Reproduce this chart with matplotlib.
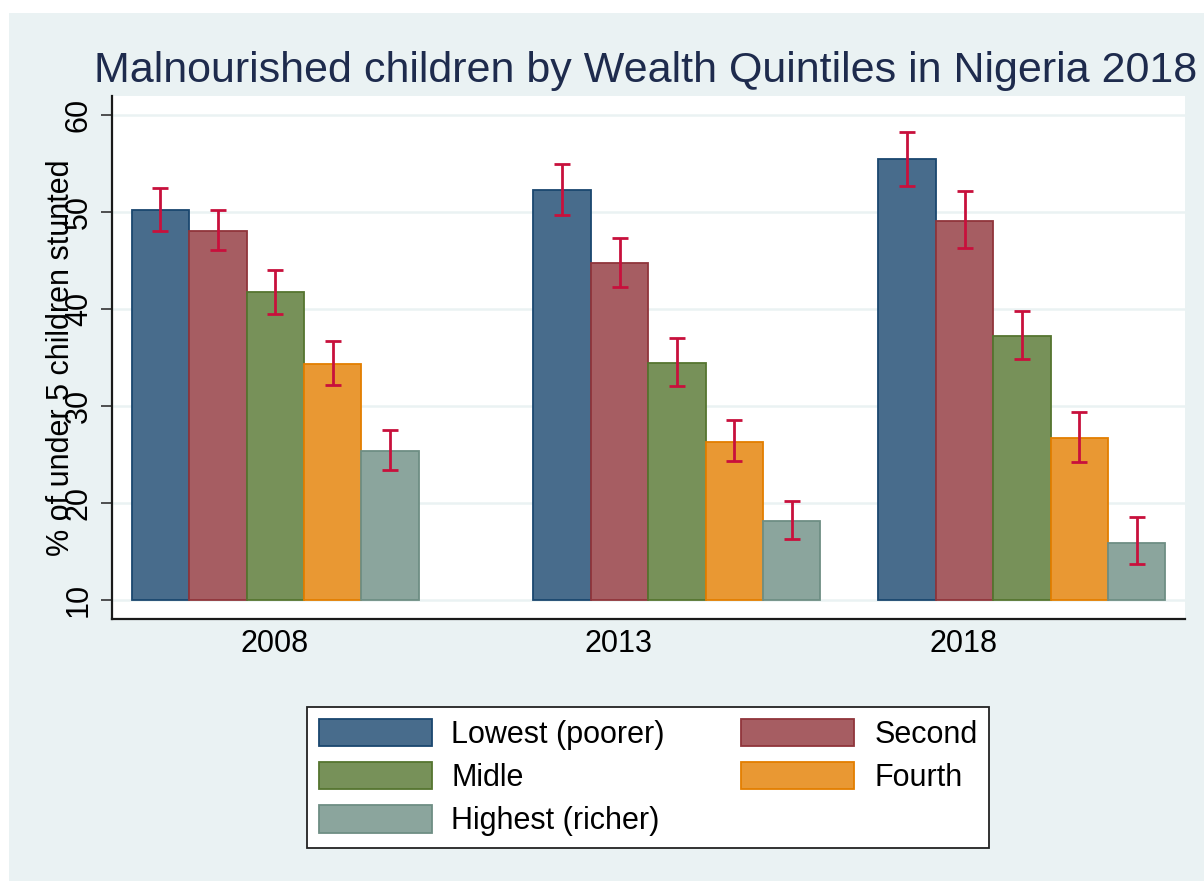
import matplotlib
matplotlib.use("Agg")
import matplotlib.pyplot as plt
import numpy as np
from matplotlib.patches import Rectangle, Patch

plt.rcParams['font.family'] = ['Liberation Sans', 'DejaVu Sans']

# ---------------- data ----------------
years = ["2008", "2013", "2018"]
quintiles = ["Lowest (poorer)", "Second", "Midle", "Fourth", "Highest (richer)"]

lowest = [50.2, 52.2, 55.4]
second = [48.0, 44.7, 49.1]
middle = [41.7, 34.4, 37.2]
fourth = [34.3, 26.3, 26.7]
highest = [25.4, 18.1, 15.9]

lowest_ci_lo = [48.0, 49.7, 52.7]
lowest_ci_hi = [52.5, 54.9, 58.2]
second_ci_lo = [46.1, 42.3, 46.3]
second_ci_hi = [50.2, 47.3, 52.1]
middle_ci_lo = [39.5, 32.0, 34.8]
middle_ci_hi = [44.0, 37.0, 39.8]
fourth_ci_lo = [32.1, 24.3, 24.2]
fourth_ci_hi = [36.7, 28.5, 29.4]
highest_ci_lo = [23.4, 16.3, 13.7]
highest_ci_hi = [27.5, 20.2, 18.5]

yticks = [10, 20, 30, 40, 50, 60]

# ---------------- style / layout ----------------
edge_cols = ["#1A476F", "#90353B", "#55752F", "#E37E00", "#6E8E84"]
bg = "#EAF2F3"
err_col = "#C8103C"
W, H = 1204, 881
group_start = [0.343, 7.34, 13.35]   # layout: left edge of each year group (bar-width units)
label_pos = [2.84, 8.83, 14.84]       # layout: tick label positions
base = 10

def fill_of(c, k=0.8):
    r, g, b = matplotlib.colors.to_rgb(c)
    return (1 - k + k * r, 1 - k + k * g, 1 - k + k * b)

fig = plt.figure(figsize=(W / 100, H / 100), dpi=100, facecolor="white")
fig.patches.append(Rectangle((9 / W, 0), 1 - 9 / W, (H - 13) / H, transform=fig.transFigure,
                             facecolor=bg, edgecolor="none", zorder=-10))

ax = fig.add_axes([112 / W, (H - 619) / H, (1185 - 112) / W, (619 - 96) / H])
ax.set_facecolor("white")

series = [lowest, second, middle, fourth, highest]
los = [lowest_ci_lo, second_ci_lo, middle_ci_lo, fourth_ci_lo, highest_ci_lo]
his = [lowest_ci_hi, second_ci_hi, middle_ci_hi, fourth_ci_hi, highest_ci_hi]

handles = []
for i, (vals, lo, hi) in enumerate(zip(series, los, his)):
    x = np.array(group_start) + 0.5 + i
    v = np.array(vals)
    ax.bar(x, v - base, bottom=base, width=1.0, color=fill_of(edge_cols[i]),
           edgecolor=edge_cols[i], linewidth=1.3, zorder=2)
    ax.errorbar(x, v, yerr=[v - np.array(lo), np.array(hi) - v], fmt="none",
                ecolor=err_col, elinewidth=2.0, capsize=6, capthick=2.0, zorder=3)
    handles.append(Patch(facecolor=fill_of(edge_cols[i]), edgecolor=edge_cols[i],
                         linewidth=1.3, label=quintiles[i]))

ax.set_xlim(0, 18.69)
ax.set_ylim(8.04, 61.93)
ax.set_yticks(yticks)
ax.set_yticklabels([str(t) for t in yticks], rotation=90, va="center", fontsize=22)
ax.set_xticks(label_pos)
ax.set_xticklabels(years, fontsize=22)
ax.tick_params(axis="x", length=0, pad=7)
ax.tick_params(axis="y", length=8, width=1.2, color="#333333", pad=5)
ax.grid(axis="y", color=bg, linewidth=1.8, zorder=0)
ax.set_axisbelow(True)
for s in ["top", "right"]:
    ax.spines[s].set_visible(False)
for s in ["left", "bottom"]:
    ax.spines[s].set_color("#1a1a1a")
    ax.spines[s].set_linewidth(1.6)

ax.set_ylabel("% of under 5 children stunted", fontsize=22, va="center")
ax.yaxis.set_label_coords((61 - 112) / (1185 - 112), 0.5)

fig.text(646 / W, (H - 82) / H, "Malnourished children by Wealth Quintiles in Nigeria 2018",
         ha="center", va="baseline", fontsize=31, color="#1E2B4D")

order = [0, 2, 4, 1, 3]
leg = fig.legend([handles[k] for k in order], [quintiles[k] for k in order],
                 loc="center", bbox_to_anchor=(648 / W, (H - 777.5) / H), ncol=2,
                 fontsize=22, frameon=True, fancybox=False, shadow=False, framealpha=1,
                 handlelength=3.7, handleheight=1.0, handletextpad=0.65,
                 columnspacing=2.5, labelspacing=0.4, borderpad=0.38, borderaxespad=0)
leg.get_frame().set_edgecolor("#222222")
leg.get_frame().set_linewidth(1.3)
leg.get_frame().set_facecolor("white")

fig.savefig("out.png", dpi=100, facecolor="white")
